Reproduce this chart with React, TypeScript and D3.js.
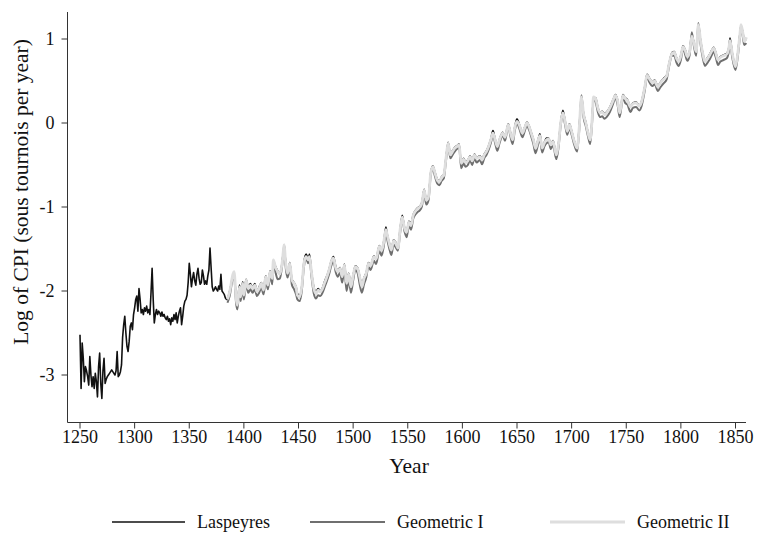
import React from "react";
import * as d3 from "d3";

// ---------- data ----------
const earlyStartYear = 1250;
// Laspeyres, annual 1250–1384
const laspeyresEarly = [
  -2.52, -3.16, -2.62, -2.80, -3.08, -2.90, -2.95, -3.02, -3.12, -2.78,
  -3.00, -3.14, -3.02, -3.16, -2.98, -3.08, -3.26, -2.90, -2.74, -3.10,
  -3.28, -2.95, -2.80, -3.10, -3.05, -3.02, -3.00, -2.98, -2.96, -2.94,
  -2.96, -2.98, -3.00, -2.95, -2.72, -3.02, -3.00, -2.96, -2.88, -2.55,
  -2.40, -2.30, -2.50, -2.66, -2.72, -2.60, -2.42, -2.38, -2.46, -2.28,
  -2.20, -2.10, -2.06, -2.24, -1.97, -2.10, -2.26, -2.22, -2.28, -2.20,
  -2.24, -2.18, -2.26, -2.22, -2.28, -2.02, -1.73, -2.10, -2.38, -2.28,
  -2.22, -2.28, -2.24, -2.26, -2.30, -2.25, -2.30, -2.28, -2.32, -2.34,
  -2.30, -2.36, -2.33, -2.40, -2.32, -2.36, -2.28, -2.34, -2.26, -2.38,
  -2.30, -2.24, -2.20, -2.40, -2.30, -2.18, -2.12, -2.10, -2.05, -1.90,
  -1.67, -1.80, -1.95, -1.85, -1.78, -1.88, -1.93, -1.80, -1.73, -1.85,
  -1.92, -1.90, -1.75, -1.82, -1.92, -1.88, -1.92, -1.82, -1.75, -1.49,
  -1.72, -1.95, -2.00, -1.98, -1.95, -1.98, -2.00, -1.94, -1.98, -1.80,
  -2.00, -2.02, -2.04, -2.08, -2.10,
];

const lateYears = [
  1385, 1387, 1390, 1391, 1393, 1394, 1396, 1397, 1399, 1400,
  1402, 1404, 1406, 1408, 1410, 1412, 1414, 1416, 1418, 1420,
  1422, 1424, 1426, 1427, 1429, 1431, 1433, 1435, 1437, 1438,
  1440, 1442, 1444, 1446, 1448, 1449, 1451, 1453, 1455, 1457,
  1459, 1460, 1462, 1464, 1466, 1468, 1470, 1472, 1474, 1476,
  1478, 1480, 1482, 1484, 1486, 1488, 1490, 1492, 1494, 1496,
  1498, 1500, 1502, 1504, 1506, 1508, 1510, 1512, 1514, 1516,
  1519, 1521, 1524, 1526, 1528, 1530, 1531, 1533, 1535, 1537,
  1539, 1541, 1543, 1545, 1547, 1549, 1551, 1553, 1555, 1557,
  1559, 1561, 1563, 1565, 1567, 1569, 1571, 1573, 1575, 1577,
  1579, 1581, 1583, 1585, 1587, 1589, 1591, 1593, 1595, 1597,
  1599, 1601, 1603, 1605, 1607, 1609, 1611, 1613, 1616, 1618,
  1620, 1622, 1624, 1626, 1628, 1630, 1632, 1634, 1637, 1639,
  1642, 1644, 1646, 1648, 1650, 1652, 1655, 1657, 1659, 1661,
  1663, 1665, 1667, 1669, 1671, 1673, 1675, 1677, 1679, 1681,
  1683, 1686, 1688, 1690, 1692, 1694, 1696, 1698, 1700, 1702,
  1705, 1707, 1709, 1711, 1713, 1715, 1717, 1719, 1720, 1722,
  1724, 1726, 1728, 1730, 1732, 1735, 1738, 1740, 1742, 1744,
  1747, 1749, 1751, 1754, 1756, 1759, 1762, 1764, 1767, 1769,
  1771, 1774, 1776, 1779, 1781, 1784, 1787, 1789, 1792, 1794,
  1796, 1798, 1800, 1802, 1804, 1806, 1808, 1810, 1812, 1814,
  1816, 1818, 1820, 1822, 1824, 1826, 1828, 1830, 1832, 1834,
  1836, 1839, 1842, 1844, 1845, 1847, 1850, 1852, 1854, 1855,
  1857, 1858, 1860,
];

const laspeyresLate = [
  -2.09, -2.00, -1.82, -1.80, -2.08, -2.14, -1.93, -2.04, -1.89, -2.03,
  -1.86, -1.95, -1.91, -1.96, -1.91, -2.00, -1.95, -1.90, -1.97, -1.82,
  -1.92, -1.76, -1.84, -1.64, -1.71, -1.76, -1.79, -1.66, -1.47, -1.62,
  -1.78, -1.66, -1.86, -1.90, -1.96, -2.03, -2.05, -1.94, -1.65, -1.56,
  -1.62, -1.56, -1.78, -1.95, -2.01, -1.97, -2.00, -1.96, -1.88, -1.82,
  -1.74, -1.64, -1.59, -1.70, -1.76, -1.72, -1.82, -1.68, -1.89, -1.79,
  -1.93, -1.81, -1.70, -1.72, -1.82, -1.93, -1.84, -1.78, -1.66, -1.69,
  -1.58, -1.61, -1.46, -1.51, -1.41, -1.24, -1.31, -1.42, -1.50, -1.39,
  -1.42, -1.48, -1.26, -1.10, -1.24, -1.29, -1.17, -1.19, -1.09, -1.04,
  -1.01, -0.99, -0.94, -0.79, -0.91, -0.87, -0.59, -0.51, -0.59, -0.67,
  -0.69, -0.64, -0.61, -0.41, -0.23, -0.37, -0.33, -0.29, -0.27, -0.25,
  -0.47, -0.42, -0.46, -0.44, -0.39, -0.44, -0.37, -0.41, -0.39, -0.43,
  -0.37, -0.33, -0.27, -0.19, -0.09, -0.19, -0.27, -0.19, -0.11, -0.16,
  -0.01, -0.11, -0.19, -0.04, 0.05, -0.01, -0.11, -0.05, 0.01, -0.03,
  -0.11, -0.19, -0.29, -0.21, -0.13, -0.29, -0.23, -0.18, -0.18, -0.25,
  -0.21, -0.37, -0.24, 0.01, 0.15, 0.03, -0.09, -0.01, -0.09, -0.19,
  -0.29, -0.04, 0.30, 0.11, 0.01, -0.11, -0.19, 0.11, 0.30, 0.30,
  0.19, 0.13, 0.14, 0.11, 0.13, 0.19, 0.28, 0.34, 0.28, 0.13,
  0.34, 0.30, 0.28, 0.20, 0.24, 0.25, 0.21, 0.26, 0.44, 0.58,
  0.54, 0.49, 0.51, 0.44, 0.48, 0.53, 0.57, 0.70, 0.84, 0.85,
  0.78, 0.74, 0.81, 0.92, 0.87, 0.80, 0.86, 1.04, 0.96, 0.86,
  1.16, 0.99, 0.84, 0.74, 0.77, 0.81, 0.86, 0.90, 0.84, 0.76,
  0.79, 0.81, 0.83, 0.91, 1.01, 0.84, 0.68, 0.83, 1.06, 1.16,
  1.06, 0.98, 1.00,
];

const geometricI = [
  -2.14, -2.06, -1.84, -1.82, -2.16, -2.22, -2.00, -2.12, -1.96, -2.10,
  -1.92, -2.02, -1.98, -2.02, -1.98, -2.06, -2.02, -1.96, -2.04, -1.88,
  -1.98, -1.82, -1.92, -1.66, -1.78, -1.86, -1.85, -1.70, -1.45, -1.68,
  -1.84, -1.72, -1.93, -1.98, -2.05, -2.10, -2.12, -2.00, -1.71, -1.62,
  -1.67, -1.62, -1.84, -2.03, -2.09, -2.05, -2.06, -2.02, -1.95, -1.88,
  -1.80, -1.70, -1.64, -1.77, -1.83, -1.78, -1.90, -1.74, -2.00, -1.86,
  -2.02, -1.88, -1.75, -1.78, -1.92, -2.02, -1.92, -1.84, -1.71, -1.75,
  -1.64, -1.68, -1.52, -1.58, -1.47, -1.30, -1.37, -1.49, -1.57, -1.45,
  -1.48, -1.52, -1.31, -1.15, -1.29, -1.36, -1.22, -1.27, -1.14, -1.09,
  -1.06, -1.04, -0.99, -0.84, -0.97, -0.92, -0.63, -0.55, -0.64, -0.72,
  -0.74, -0.69, -0.66, -0.45, -0.26, -0.42, -0.38, -0.34, -0.31, -0.29,
  -0.54, -0.48, -0.52, -0.50, -0.44, -0.50, -0.42, -0.47, -0.44, -0.49,
  -0.42, -0.38, -0.32, -0.24, -0.15, -0.24, -0.33, -0.24, -0.15, -0.21,
  -0.04, -0.16, -0.25, -0.09, 0.00, -0.06, -0.17, -0.10, -0.03, -0.08,
  -0.16, -0.25, -0.36, -0.27, -0.19, -0.35, -0.28, -0.24, -0.23, -0.31,
  -0.26, -0.43, -0.29, -0.03, 0.10, -0.02, -0.14, -0.06, -0.14, -0.24,
  -0.34, -0.08, 0.33, 0.06, -0.04, -0.16, -0.25, 0.06, 0.28, 0.25,
  0.13, 0.07, 0.08, 0.05, 0.07, 0.13, 0.23, 0.30, 0.22, 0.07,
  0.30, 0.24, 0.22, 0.13, 0.18, 0.19, 0.15, 0.20, 0.39, 0.55,
  0.49, 0.44, 0.46, 0.38, 0.42, 0.47, 0.52, 0.66, 0.80, 0.80,
  0.72, 0.68, 0.75, 0.89, 0.81, 0.74, 0.81, 1.08, 0.91, 0.80,
  1.19, 0.94, 0.78, 0.68, 0.71, 0.75, 0.80, 0.85, 0.78, 0.69,
  0.73, 0.75, 0.77, 0.86, 0.96, 0.78, 0.63, 0.78, 1.02, 1.14,
  1.00, 0.93, 0.95,
];

const geometricII = [
  -2.10, -2.01, -1.80, -1.77, -2.10, -2.17, -1.95, -2.07, -1.91, -2.05,
  -1.87, -1.97, -1.93, -1.97, -1.93, -2.01, -1.97, -1.91, -1.99, -1.83,
  -1.93, -1.77, -1.85, -1.63, -1.72, -1.77, -1.80, -1.67, -1.45, -1.63,
  -1.79, -1.67, -1.87, -1.91, -1.97, -2.05, -2.07, -1.95, -1.67, -1.59,
  -1.63, -1.59, -1.79, -1.97, -2.03, -1.99, -2.01, -1.97, -1.90, -1.83,
  -1.75, -1.65, -1.61, -1.72, -1.77, -1.73, -1.83, -1.69, -1.91, -1.80,
  -1.95, -1.82, -1.71, -1.73, -1.83, -1.95, -1.85, -1.79, -1.67, -1.70,
  -1.59, -1.62, -1.47, -1.52, -1.42, -1.27, -1.32, -1.43, -1.51, -1.40,
  -1.43, -1.49, -1.27, -1.12, -1.25, -1.30, -1.18, -1.22, -1.10, -1.05,
  -1.02, -1.00, -0.95, -0.80, -0.92, -0.88, -0.60, -0.52, -0.60, -0.68,
  -0.70, -0.65, -0.62, -0.42, -0.24, -0.38, -0.34, -0.30, -0.28, -0.26,
  -0.48, -0.43, -0.47, -0.45, -0.40, -0.45, -0.38, -0.42, -0.40, -0.44,
  -0.38, -0.34, -0.28, -0.20, -0.12, -0.20, -0.28, -0.20, -0.12, -0.17,
  -0.02, -0.12, -0.20, -0.05, 0.02, -0.02, -0.12, -0.06, 0.00, -0.04,
  -0.12, -0.20, -0.30, -0.22, -0.15, -0.30, -0.24, -0.20, -0.19, -0.26,
  -0.22, -0.38, -0.25, 0.00, 0.12, 0.02, -0.10, -0.02, -0.10, -0.20,
  -0.30, -0.05, 0.31, 0.10, 0.00, -0.12, -0.20, 0.10, 0.31, 0.29,
  0.18, 0.12, 0.13, 0.10, 0.12, 0.18, 0.27, 0.33, 0.27, 0.12,
  0.33, 0.29, 0.27, 0.19, 0.23, 0.24, 0.20, 0.25, 0.43, 0.57,
  0.53, 0.48, 0.50, 0.43, 0.47, 0.52, 0.56, 0.69, 0.83, 0.84,
  0.77, 0.73, 0.80, 0.91, 0.86, 0.79, 0.85, 1.03, 0.95, 0.85,
  1.17, 0.98, 0.83, 0.73, 0.76, 0.80, 0.85, 0.89, 0.83, 0.75,
  0.78, 0.80, 0.82, 0.90, 0.98, 0.83, 0.67, 0.82, 1.05, 1.17,
  1.05, 0.97, 1.02,
];

const xTicks = [1250, 1300, 1350, 1400, 1450, 1500, 1550, 1600, 1650, 1700, 1750, 1800, 1850];
const yTicks = [-3, -2, -1, 0, 1];
const seriesNames = ["Laspeyres", "Geometric I", "Geometric II"];
const seriesColors = ["#111111", "#6f6f6f", "#dedede"];
const seriesWidths = [1.6, 2.0, 2.8];

// ---------- component ----------
type Pt = { year: number; v: number };

export default function App() {
  const W = 760;
  const H = 534;
  const x = d3.scaleLinear().domain([1250, 1850]).range([80, 735.5]);
  const y = d3.scaleLinear().domain([-3, 1]).range([375, 39]);

  const lasp: Pt[] = [
    ...laspeyresEarly.map((v, i) => ({ year: earlyStartYear + i, v })),
    ...laspeyresLate.map((v, i) => ({ year: lateYears[i], v })),
  ];
  const g1: Pt[] = geometricI.map((v, i) => ({ year: lateYears[i], v }));
  const g2: Pt[] = geometricII.map((v, i) => ({ year: lateYears[i], v }));

  const line = d3
    .line<Pt>()
    .x((d) => x(d.year))
    .y((d) => y(d.v));
  const smooth = d3
    .line<Pt>()
    .x((d) => x(d.year))
    .y((d) => y(d.v))
    .curve(d3.curveMonotoneX);

  const laspPath =
    (line(lasp.filter((d) => d.year <= 1385)) || "") +
    (smooth(lasp.filter((d) => d.year >= 1384)) || "");

  const font = "'Liberation Serif', 'Times New Roman', serif";
  const axisColor = "#333";
  const axisTop = 12;
  const axisBottom = 422.5;
  const axisLeft = 67.5;
  const axisRight = 746;

  const legendItems = [
    { x1: 112, x2: 185, tx: 197 },
    { x1: 310, x2: 385, tx: 397 },
    { x1: 550, x2: 625, tx: 637 },
  ];
  const legendY = 522;

  return (
    <svg
      width={W}
      height={H}
      viewBox={`0 0 ${W} ${H}`}
      style={{ position: "absolute", left: 0, top: 0, background: "#fff" }}
      fontFamily={font}
    >
      <rect x={0} y={0} width={W} height={H} fill="#fff" />
      {/* series */}
      <path d={laspPath} fill="none" stroke={seriesColors[0]} strokeWidth={seriesWidths[0]} strokeLinejoin="round" />
      <path d={smooth(g1) || ""} fill="none" stroke={seriesColors[1]} strokeWidth={seriesWidths[1]} strokeLinejoin="round" />
      <path d={smooth(g2) || ""} fill="none" stroke={seriesColors[2]} strokeWidth={seriesWidths[2]} strokeLinejoin="round" />

      {/* y axis */}
      <line x1={axisLeft} x2={axisLeft} y1={axisTop} y2={axisBottom} stroke={axisColor} strokeWidth={1} />
      {yTicks.map((t) => (
        <g key={t}>
          <line x1={axisLeft - 6} x2={axisLeft} y1={y(t)} y2={y(t)} stroke={axisColor} strokeWidth={1} />
          <text x={axisLeft - 13} y={y(t)} dy="0.35em" textAnchor="end" fontSize={18} fill="#111">
            {t}
          </text>
        </g>
      ))}
      <text
        transform={`translate(28, 192) rotate(-90)`}
        textAnchor="middle"
        fontSize={21.5}
        fill="#111"
      >
        Log of CPI (sous tournois per year)
      </text>

      {/* x axis */}
      <line x1={axisLeft} x2={axisRight} y1={axisBottom} y2={axisBottom} stroke={axisColor} strokeWidth={1} />
      {xTicks.map((t) => (
        <g key={t}>
          <line x1={x(t)} x2={x(t)} y1={axisBottom} y2={axisBottom + 6} stroke={axisColor} strokeWidth={1} />
          <text x={x(t)} y={443} textAnchor="middle" fontSize={18} fill="#111">
            {t}
          </text>
        </g>
      ))}
      <text x={409} y={473} textAnchor="middle" fontSize={21.5} fill="#111">
        Year
      </text>

      {/* legend */}
      {legendItems.map((it, i) => (
        <g key={seriesNames[i]}>
          <line x1={it.x1} x2={it.x2} y1={legendY} y2={legendY} stroke={seriesColors[i]} strokeWidth={seriesWidths[i]} />
          <text x={it.tx} y={legendY + 6} fontSize={18} fill="#111">
            {seriesNames[i]}
          </text>
        </g>
      ))}
    </svg>
  );
}
